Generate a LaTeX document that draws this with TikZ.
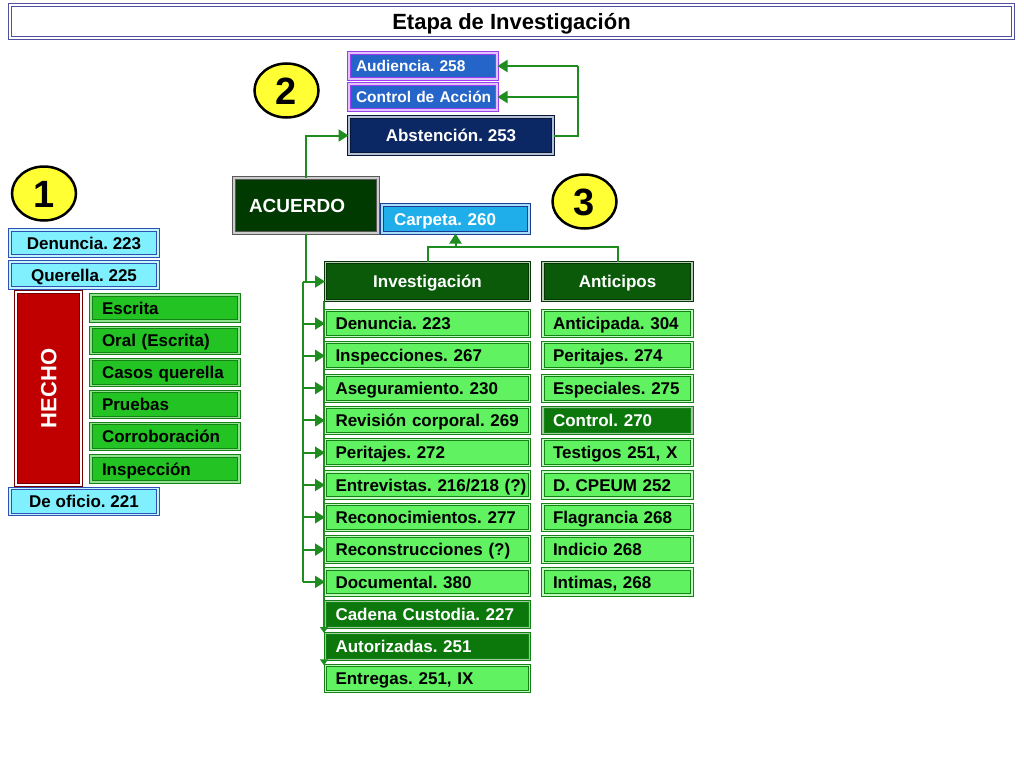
\documentclass[tikz,border=0pt]{standalone}
\usepackage{fontspec}
\setmainfont{Liberation Sans}
\usetikzlibrary{arrows.meta, shapes.geometric, calc}
\definecolor{titleblue}{RGB}{80,80,160}
\definecolor{cyanfill}{RGB}{128,240,255}
\definecolor{cyanline}{RGB}{50,80,180}
\definecolor{hechored}{RGB}{192,0,0}
\definecolor{brightgreen}{RGB}{34,195,34}
\definecolor{lightgreen}{RGB}{96,242,96}
\definecolor{midgreen}{RGB}{12,120,12}
\definecolor{darkgreen}{RGB}{10,90,10}
\definecolor{acuerdogreen}{RGB}{0,58,0}
\definecolor{edgegreen}{RGB}{20,130,20}
\definecolor{linkgreen}{RGB}{30,140,30}
\definecolor{audblue}{RGB}{37,100,200}
\definecolor{audline}{RGB}{155,60,240}
\definecolor{absnavy}{RGB}{12,40,100}
\definecolor{carpetablue}{RGB}{32,174,234}
\definecolor{carpetaline}{RGB}{30,60,150}
\definecolor{circleyellow}{RGB}{255,255,51}

\begin{document}
\frenchspacing
\begin{tikzpicture}[
  x = 1pt, y = -1pt,
  > = {Triangle[length=10pt, width=12pt]},
  link/.style = {draw=linkgreen, line width=2pt},
  link arrow/.style = {link, ->},
  box/.style = {rectangle, inner ysep=0pt, line width=1pt, double distance=1.2pt, font=\bfseries\fontsize{17}{19}\selectfont,
    text height=13pt, text depth=0.8pt,
    execute at begin node={\leavevmode\hbox\bgroup}, execute at end node={\egroup}},
  cyan box/.style = {box, draw=cyanline, double=cyanfill!50!white, fill=cyanfill, minimum width=148pt, minimum height=26pt},
  green item/.style = {box, draw=edgegreen, double=brightgreen!50!white, fill=brightgreen, text width=126pt, inner xsep=11pt, align=left, minimum height=26pt},
  inv item/.style = {box, draw=edgegreen, double=lightgreen!40!white, fill=lightgreen, text width=184pt, inner xsep=10pt, align=left, minimum height=26pt},
  ant item/.style = {inv item, text width=129pt},
  dark item/.style = {fill=midgreen, text=white, double=midgreen!40!white},
  header/.style = {box, draw=darkgreen!60!black, double=white!70!darkgreen, fill=darkgreen, text=white, minimum height=38pt},
  top box/.style = {box, draw=audline, double=audline!30!white, fill=audblue, text=white, text width=134pt, inner xsep=7pt, align=left, minimum height=26pt,
    font=\bfseries\fontsize{15.5}{17}\selectfont, text height=12pt, text depth=0.9pt},
  big text/.style = {font=\bfseries\fontsize{22}{24}\selectfont, text height=16.5pt, text depth=0.7pt},
  number/.style = {ellipse, draw=black, line width=2.5pt, fill=circleyellow, inner sep=0pt, minimum width=64pt, minimum height=54pt,
    font=\bfseries\fontsize{38}{38}\selectfont, text height=27.5pt, text depth=0.3pt}
]
  \useasboundingbox (0,0) rectangle (1024,768);

  % title
  \node[box, big text, draw=titleblue, double=white, line width=1.4pt, double distance=1.5pt, minimum width=1003pt, minimum height=33pt] (title) at (511.5,21.5) {Etapa de Investigación};

  % 1
  \node[number] (n1) at (44,193.5) {1};
  \node[cyan box] (denuncia) at (84,243) {Denuncia. 223};
  \node[cyan box] (querella) at (84,275) {Querella. 225};
  \node[box, big text, rotate=90, draw=hechored!60!black, double=white, fill=hechored, text=white, minimum width=193pt, minimum height=65pt] (hecho) at (48.5,388.5) {HECHO};
  \node[green item] (h1) at (165,308) {Escrita};
  \node[green item] (h2) at (165,340.2) {Oral (Escrita)};
  \node[green item] (h3) at (165,372.4) {Casos querella};
  \node[green item] (h4) at (165,404.6) {Pruebas};
  \node[green item] (h5) at (165,436.8) {Corroboración};
  \node[green item] (h6) at (165,469) {Inspección};
  \node[cyan box] (oficio) at (84,501.5) {De oficio. 221};

  % 2
  \node[number] (n2) at (286.5,90.5) {2};
  \node[top box] (aud) at (423,66) {Audiencia. 258};
  \node[top box] (ctrl) at (423,97) {Control de Acción};
  \node[box, draw=absnavy!60!black, double=white!70!absnavy, fill=absnavy, text=white, minimum width=204pt, minimum height=37pt] (abst) at (451,135.5) {Abstención. 253};
  \node[box, draw=gray!70!black, double=gray!40!white, fill=acuerdogreen, text=white, text width=114pt, inner xsep=15pt, align=left, minimum height=55pt,
    font=\bfseries\fontsize{19}{21}\selectfont, text height=14.5pt, text depth=0.9pt] (acuerdo) at (306,205.5) {ACUERDO};

  % 3
  \node[number] (n3) at (584.5,201.5) {3};
  \node[box, draw=carpetaline, double=carpetablue!40!white, fill=carpetablue, text=white, text width=123pt, inner xsep=12pt, align=left, minimum height=28pt] (carpeta) at (455.5,219) {Carpeta. 260};

  % investigacion
  \node[header, minimum width=204pt] (inv) at (427.5,281.5) {Investigación};
  \node[inv item] (i1) at (427.5,323.5) {Denuncia. 223};
  \node[inv item] (i2) at (427.5,355.8) {Inspecciones. 267};
  \node[inv item] (i3) at (427.5,388.1) {Aseguramiento. 230};
  \node[inv item] (i4) at (427.5,420.4) {Revisión corporal. 269};
  \node[inv item] (i5) at (427.5,452.7) {Peritajes. 272};
  \node[inv item] (i6) at (427.5,485) {Entrevistas. 216/218 (?)};
  \node[inv item] (i7) at (427.5,517.3) {Reconocimientos. 277};
  \node[inv item] (i8) at (427.5,549.6) {Reconstrucciones (?)};
  \node[inv item] (i9) at (427.5,581.9) {Documental. 380};
  \node[inv item, dark item] (i10) at (427.5,614.2) {Cadena Custodia. 227};
  \node[inv item, dark item] (i11) at (427.5,646.5) {Autorizadas. 251};
  \node[inv item] (i12) at (427.5,678.8) {Entregas. 251, IX};

  % anticipos
  \node[header, minimum width=149pt] (ant) at (617.5,281.5) {Anticipos};
  \node[ant item] (a1) at (617.5,323.5) {Anticipada. 304};
  \node[ant item] (a2) at (617.5,355.8) {Peritajes. 274};
  \node[ant item] (a3) at (617.5,388.1) {Especiales. 275};
  \node[ant item, dark item] (a4) at (617.5,420.4) {Control. 270};
  \node[ant item] (a5) at (617.5,452.7) {Testigos 251, X};
  \node[ant item] (a6) at (617.5,485) {D. CPEUM 252};
  \node[ant item] (a7) at (617.5,517.3) {Flagrancia 268};
  \node[ant item] (a8) at (617.5,549.6) {Indicio 268};
  \node[ant item] (a9) at (617.5,581.9) {Intimas, 268};

  % connectors
  \coordinate (rail) at (578,66);
  \draw[link arrow] (acuerdo.north) |- (abst.west);
  \draw[link] (abst.east) -| (rail);
  \draw[link arrow] (rail) -- (aud.east);
  \draw[link arrow] (rail |- ctrl.east) -- (ctrl.east);

  \coordinate (trunk) at (302.5,281.5);
  \coordinate (split) at (455.5,247);
  \draw[link] (acuerdo.south) -- (acuerdo.south |- inv.west);
  \draw[link arrow] (trunk) -- (inv.west);
  \draw[link] (trunk) -- (trunk |- i9.west);
  \foreach \k in {1,...,9}
    \draw[link arrow] (trunk |- i\k.west) -- (i\k.west);
  \draw[link, -{Triangle[length=6pt, width=8pt]}] ([xshift=-1pt]inv.south west) -- ([xshift=-1pt]i11.north west);
  \draw[link, -{Triangle[length=6pt, width=8pt]}] ([xshift=-1pt]i11.south west) -- ([xshift=-1pt]i12.north west);

  \draw[link] (inv.north) -- ++(0,-15) -| (ant.north);
  \draw[link arrow] (split) -- (carpeta.south);
\end{tikzpicture}
\end{document}
